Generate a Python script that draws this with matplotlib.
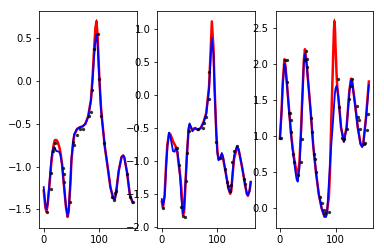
import matplotlib
matplotlib.use("Agg")
import matplotlib.pyplot as plt

# ---------------- Panel 1 ----------------
x1 = [0, 3, 5, 7, 10, 13, 15, 18, 20, 23, 25, 28, 30, 33, 35, 38, 40, 43, 45, 48, 50, 53, 55,
      60, 65, 70, 75, 80, 85, 88, 90, 93, 95, 97, 100, 103, 105, 110, 115, 120, 125, 128, 130,
      135, 140, 143, 145, 150, 155, 160]
red1 = [-1.28, -1.48, -1.53, -1.45, -1.24, -1.00, -0.88, -0.74, -0.69, -0.69, -0.71, -0.77, -0.83,
        -0.97, -1.12, -1.33, -1.47, -1.59, -1.52, -1.20, -0.92, -0.72, -0.63,
        -0.56, -0.54, -0.53, -0.50, -0.41, -0.22, 0.05, 0.30, 0.62, 0.70, 0.52, 0.05, -0.30, -0.45,
        -0.77, -1.00, -1.24, -1.37, -1.38, -1.32, -1.05, -0.89, -0.87, -0.89, -1.07, -1.33, -1.42]
green1 = [-1.28, -1.48, -1.53, -1.45, -1.24, -1.00, -0.88, -0.74, -0.69, -0.69, -0.71, -0.77, -0.83,
          -0.97, -1.12, -1.33, -1.47, -1.59, -1.52, -1.20, -0.92, -0.72, -0.63,
          -0.56, -0.54, -0.53, -0.50, -0.41, -0.22, 0.05, 0.30, 0.63, 0.72, 0.52, 0.05, -0.30, -0.45,
          -0.77, -1.00, -1.24, -1.37, -1.38, -1.32, -1.05, -0.89, -0.87, -0.89, -1.07, -1.33, -1.42]
blue1 = [-1.24, -1.45, -1.50, -1.43, -1.22, -0.98, -0.84, -0.77, -0.79, -0.82, -0.82, -0.83, -0.86,
         -0.98, -1.12, -1.33, -1.47, -1.58, -1.50, -1.18, -0.90, -0.70, -0.62,
         -0.56, -0.54, -0.53, -0.50, -0.42, -0.23, 0.02, 0.22, 0.48, 0.55, 0.42, 0.03, -0.32, -0.46,
         -0.77, -1.00, -1.24, -1.37, -1.38, -1.32, -1.05, -0.89, -0.87, -0.89, -1.07, -1.33, -1.42]
pts1_x = [6, 13, 13, 16, 18, 21, 34, 36.5, 36.5, 47, 53, 54, 59, 66, 70, 80.6, 84.7, 87, 90.6,
          98, 100, 103.5, 107.6, 123.5, 126, 127.6, 129.4, 150.6, 156, 160]
pts1_y = [-1.53, -1.26, -1.07, -0.82, -0.78, -0.72, -1.02, -1.09, -1.18, -1.41, -0.71, -0.75, -0.63,
          -0.555, -0.555, -0.41, -0.36, -0.10, 0.37, 0.55, 0.03, -0.41, -0.72, -1.36, -1.39, -1.31,
          -1.28, -1.09, -1.36, -1.41]

# ---------------- Panel 2 ----------------
x2 = [0, 2, 5, 8, 10, 13, 15, 18, 20, 23, 25, 28, 30, 33, 35, 38, 40, 42, 45, 48, 50, 53, 55,
      60, 65, 70, 75, 80, 85, 88, 90, 93, 95, 98, 100, 102, 105, 108, 110, 115, 120, 123, 125,
      128, 130, 135, 138, 140, 145, 150, 153, 155, 158, 160]
red2 = [-1.62, -1.71, -1.52, -1.00, -0.75, -0.58, -0.59, -0.65, -0.70, -0.75, -0.78, -0.88, -1.02,
        -1.22, -1.40, -1.82, -1.78, -1.45, -0.92, -0.55, -0.45, -0.50, -0.52,
        -0.50, -0.53, -0.50, -0.41, -0.27, 0.13, 0.70, 1.12, 0.70, 0.10, -0.57, -0.85, -0.97, -0.97,
        -0.90, -0.95, -1.18, -1.42, -1.50, -1.45, -1.15, -0.97, -0.80, -0.82, -0.90, -1.12, -1.37,
        -1.50, -1.53, -1.45, -1.32]
green2 = red2
blue2 = [-1.58, -1.68, -1.55, -1.05, -0.78, -0.57, -0.62, -0.75, -0.85, -0.86, -0.80, -0.85, -1.00,
         -1.25, -1.55, -1.80, -1.72, -1.40, -0.95, -0.50, -0.43, -0.50, -0.55,
         -0.50, -0.53, -0.50, -0.42, -0.28, 0.10, 0.60, 0.87, 0.62, 0.08, -0.60, -0.88, -0.99, -0.96,
         -0.88, -0.93, -1.18, -1.42, -1.48, -1.43, -1.12, -0.92, -0.78, -0.82, -0.90, -1.12, -1.37,
         -1.50, -1.52, -1.45, -1.32]
pts2_x = [1.2, 27.6, 31, 35, 38, 41, 43, 45, 49, 65, 73.5, 76.5, 79.4, 84, 85, 97, 104, 113.5,
          117.6, 119.4, 121.8, 124.7, 126.5, 129.4, 136, 148, 150]
pts2_y = [-1.71, -0.80, -1.06, -1.70, -1.83, -1.85, -1.30, -0.88, -0.545, -0.51, -0.50, -0.43, -0.33,
          -0.06, 0.355, -0.71, -0.96, -1.13, -1.32, -1.38, -1.46, -1.36, -1.02, -0.85, -0.77, -1.27,
          -1.35]

# ---------------- Panel 3 ----------------
x3 = [0, 3, 5, 8, 10, 13, 15, 18, 20, 23, 25, 28, 30, 32, 35, 38, 40, 43, 45, 48, 50, 55, 60,
      65, 70, 75, 80, 83, 85, 88, 90, 93, 95, 97, 98, 99, 100, 102, 103, 105, 108, 110, 115, 120,
      125, 128, 130, 135, 140, 145, 148, 150, 155, 160]
red3 = [0.97, 1.37, 1.74, 2.07, 1.97, 1.69, 1.50, 1.22, 1.04, 0.83, 0.72, 0.58, 0.50, 0.47, 0.62,
        1.10, 1.50, 2.06, 2.21, 2.02, 1.83, 1.37, 0.86,
        0.49, 0.19, 0.00, -0.11, -0.10, -0.02, 0.15, 0.50, 1.39, 1.90, 2.45, 2.60, 2.50, 2.25, 1.85,
        1.70, 1.55, 1.30, 1.12, 0.93, 1.13, 1.64, 1.80, 1.76, 1.46, 1.13, 0.90, 0.86, 0.90, 1.27,
        1.76]
green3 = [0.97, 1.37, 1.74, 2.07, 1.97, 1.69, 1.50, 1.22, 1.04, 0.83, 0.72, 0.58, 0.50, 0.47, 0.62,
          1.10, 1.50, 2.06, 2.21, 2.02, 1.83, 1.37, 0.86,
          0.49, 0.19, 0.00, -0.11, -0.10, -0.02, 0.15, 0.50, 1.39, 1.90, 2.47, 2.63, 2.50, 2.25, 1.85,
          1.70, 1.55, 1.30, 1.12, 0.93, 1.13, 1.64, 1.80, 1.76, 1.46, 1.13, 0.90, 0.86, 0.90, 1.27,
          1.76]
blue3 = [0.97, 1.35, 1.70, 2.01, 1.95, 1.68, 1.48, 1.20, 1.02, 0.80, 0.68, 0.50, 0.40, 0.37, 0.55,
         1.05, 1.45, 2.02, 2.15, 2.00, 1.82, 1.37, 0.86,
         0.49, 0.19, 0.00, -0.12, -0.12, -0.05, 0.35, 0.60, 0.95, 1.15, 1.38, 1.50, 1.60, 1.66, 1.70,
         1.66, 1.55, 1.30, 1.12, 0.92, 1.12, 1.62, 1.78, 1.75, 1.45, 1.12, 0.89, 0.85, 0.89, 1.25,
         1.71]
pts3_x = [0, 2, 9.5, 12, 12.5, 16.7, 18.5, 19, 20, 22.6, 25.6, 32, 38, 40.5, 45, 46.4, 49.4, 49.4,
          56, 58, 62, 63, 65, 71.4, 75, 78.6, 81, 88, 104, 106, 112, 115, 121, 125, 127, 130, 138,
          140, 141.7, 144.6, 151.8, 153.5, 157, 158]
pts3_y = [0.97, 0.97, 2.06, 2.06, 1.76, 1.32, 1.32, 1.22, 1.06, 0.76, 0.64, 0.46, 0.64, 0.96, 2.06,
          2.18, 2.07, 1.96, 1.25, 1.06, 0.75, 0.69, 0.50, 0.16, 0.08, -0.02, -0.07, -0.05, 1.79,
          1.41, 0.97, 0.96, 1.10, 1.52, 1.70, 1.80, 1.42, 1.27, 1.22, 1.10, 0.89, 0.90, 1.09, 1.31]

yticks = [[-1.5, -1.0, -0.5, 0.0, 0.5],
          [-2.0, -1.5, -1.0, -0.5, 0.0, 0.5, 1.0],
          [0.0, 0.5, 1.0, 1.5, 2.0, 2.5]]
ylims = [(-1.722, 0.823), (-2.024, 1.283), (-0.278, 2.744)]
xticks = [0, 100]

panels = [(x1, green1, red1, blue1, pts1_x, pts1_y),
          (x2, green2, red2, blue2, pts2_x, pts2_y),
          (x3, green3, red3, blue3, pts3_x, pts3_y)]

fig, axes = plt.subplots(1, 3, figsize=(384 / 72, 252 / 72), dpi=72)
fig.subplots_adjust(left=0.1023, right=0.9721, bottom=0.094, top=0.9575, wspace=0.208)

for i, (ax, (x, g, r, b, px, py)) in enumerate(zip(axes, panels)):
    ax.plot(x, g, color="green", lw=1.0, zorder=1)
    ax.plot(x, r, color="red", lw=2.5, zorder=2)
    ax.plot(x, b, color="blue", lw=1.8, zorder=3)
    ax.scatter(px, py, s=11, color="black", alpha=0.8, zorder=4, linewidths=0)
    ax.set_xlim(-8, 168)
    ax.set_ylim(*ylims[i])
    ax.set_xticks(xticks)
    ax.set_yticks(yticks[i])

fig.savefig("out.png", dpi=72)
